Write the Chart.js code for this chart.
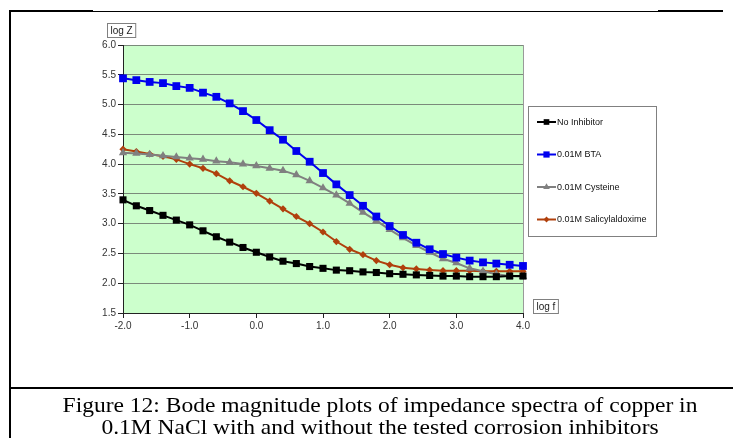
<!DOCTYPE html>
<html>
<head>
<meta charset="utf-8">
<script src="https://cdn.jsdelivr.net/npm/chart.js@4.4.1/dist/chart.umd.min.js"></script>
<style>
  html, body { margin: 0; padding: 0; background: #fff; }
  body { width: 733px; height: 438px; position: relative; overflow: hidden; }
  #chartBox { position: absolute; left: 0; top: 0; width: 733px; height: 388px; }
  .line { position: absolute; background: #000; }
  #caption {
    position: absolute; left: 10px; top: 394px; width: 740px;
    font-family: "Liberation Serif", "Times New Roman", serif;
    font-size: 21px; line-height: 22px; text-align: center; color: #000;
    transform: scaleX(1.12); transform-origin: 370px 0;
  }
</style>
</head>
<body>
<div id="chartBox"><canvas id="bodeChart" width="733" height="388"></canvas></div>
<div class="line" style="left:9px; top:10px; width:2px; height:428px;"></div>
<div class="line" style="left:9px; top:10px; width:84px; height:2px;"></div>
<div class="line" style="left:93px; top:11px; width:565px; height:1px;"></div>
<div class="line" style="left:658px; top:10px; width:65px; height:2px;"></div>
<div class="line" style="left:9px; top:387px; width:724px; height:2px;"></div>
<div id="caption">Figure 12: Bode magnitude plots of impedance spectra of copper in<br>0.1M NaCl with and without the tested corrosion inhibitors</div>
<script>
// log f values (x)
const logF = [-2.0, -1.8, -1.6, -1.4, -1.2, -1.0, -0.8, -0.6, -0.4, -0.2,
              0.0, 0.2, 0.4, 0.6, 0.8, 1.0, 1.2, 1.4, 1.6, 1.8,
              2.0, 2.2, 2.4, 2.6, 2.8, 3.0, 3.2, 3.4, 3.6, 3.8, 4.0];

// log Z values per series
const noInhibitor = [3.40, 3.30, 3.22, 3.14, 3.06, 2.98, 2.88, 2.78, 2.69, 2.60,
                     2.52, 2.44, 2.37, 2.33, 2.28, 2.25, 2.22, 2.21, 2.19, 2.18,
                     2.16, 2.15, 2.14, 2.13, 2.12, 2.12, 2.11, 2.11, 2.11, 2.12, 2.12];
const bta = [5.44, 5.41, 5.38, 5.36, 5.31, 5.28, 5.20, 5.13, 5.02, 4.89,
             4.74, 4.57, 4.41, 4.22, 4.04, 3.85, 3.66, 3.48, 3.30, 3.12,
             2.96, 2.81, 2.68, 2.57, 2.49, 2.43, 2.38, 2.35, 2.33, 2.31, 2.29];
const cysteine = [4.19, 4.18, 4.16, 4.14, 4.12, 4.10, 4.08, 4.05, 4.03, 4.00,
                  3.97, 3.93, 3.89, 3.82, 3.72, 3.60, 3.48, 3.34, 3.19, 3.05,
                  2.90, 2.76, 2.63, 2.52, 2.41, 2.34, 2.25, 2.20, 2.15, 2.12, 2.11];
const salicylaldoxime = [4.25, 4.21, 4.17, 4.13, 4.08, 4.00, 3.93, 3.84, 3.72, 3.62,
                         3.51, 3.38, 3.25, 3.12, 3.00, 2.86, 2.70, 2.57, 2.48, 2.38,
                         2.31, 2.26, 2.24, 2.22, 2.21, 2.21, 2.21, 2.20, 2.20, 2.20, 2.20];

const seriesLabels = ["No Inhibitor", "0.01M BTA", "0.01M Cysteine", "0.01M Salicylaldoxime"];

function toPoints(values) {
    return logF.map((x, i) => ({ x: x, y: values[i] }));
}

// plot area background and right edge
const plotBackground = {
    id: 'plotBackground',
    beforeDraw(chart) {
        const { ctx, chartArea: a } = chart;
        ctx.save();
        ctx.fillStyle = '#ccffcc';
        ctx.fillRect(a.left, a.top, a.right - a.left, a.bottom - a.top);
        ctx.strokeStyle = '#9a9a9a';
        ctx.lineWidth = 1;
        ctx.beginPath();
        ctx.moveTo(a.right + 0.5, a.top);
        ctx.lineTo(a.right + 0.5, a.bottom);
        ctx.stroke();
        ctx.restore();
    }
};

// boxed axis titles and legend, drawn like the excel chart
const excelBits = {
    id: 'excelBits',
    afterDraw(chart) {
        const ctx = chart.ctx;
        ctx.save();
        ctx.font = '10px "Liberation Sans", Arial, sans-serif';
        ctx.textBaseline = 'middle';

        function boxedText(text, x, y) {
            const w = ctx.measureText(text).width + 6;
            ctx.fillStyle = '#fff';
            ctx.fillRect(x, y, w, 14);
            ctx.strokeStyle = '#808080';
            ctx.lineWidth = 1;
            ctx.strokeRect(x + 0.5, y + 0.5, w, 14);
            ctx.fillStyle = '#222';
            ctx.textAlign = 'left';
            ctx.fillText(text, x + 3.5, y + 8);
        }
        boxedText('log Z', 107, 23);
        boxedText('log f', 533, 299);

        // legend
        const lx = 528, ly = 106, lw = 128, lh = 130;
        ctx.fillStyle = '#fff';
        ctx.fillRect(lx, ly, lw, lh);
        ctx.strokeStyle = '#808080';
        ctx.strokeRect(lx + 0.5, ly + 0.5, lw, lh);
        ctx.font = '9px "Liberation Sans", Arial, sans-serif';
        chart.data.datasets.forEach((ds, i) => {
            const y = 122 + i * 32.5;
            ctx.strokeStyle = ds.borderColor;
            ctx.lineWidth = 2;
            ctx.beginPath();
            ctx.moveTo(537, y);
            ctx.lineTo(556, y);
            ctx.stroke();
            ctx.fillStyle = ds.backgroundColor;
            Chart.helpers.drawPoint(ctx, {
                pointStyle: ds.pointStyle,
                radius: ds.pointRadius * 0.8,
                borderWidth: 0
            }, 546.5, y);
            ctx.fillStyle = '#111';
            ctx.textAlign = 'left';
            ctx.fillText(ds.label, 557, y + 0.5);
        });
        ctx.restore();
    }
};

new Chart(document.getElementById("bodeChart"), {
    type: 'line',
    data: {
        datasets: [
            {
                label: seriesLabels[0],
                data: toPoints(noInhibitor),
                borderColor: '#000000',
                backgroundColor: '#000000',
                pointStyle: 'rect',
                pointRadius: 5
            },
            {
                label: seriesLabels[1],
                data: toPoints(bta),
                borderColor: '#0000ee',
                backgroundColor: '#0000ee',
                pointStyle: 'rect',
                pointRadius: 5.5
            },
            {
                label: seriesLabels[2],
                data: toPoints(cysteine),
                borderColor: '#808080',
                backgroundColor: '#808080',
                pointStyle: 'triangle',
                pointRadius: 4.8
            },
            {
                label: seriesLabels[3],
                data: toPoints(salicylaldoxime),
                borderColor: '#b0400c',
                backgroundColor: '#b0400c',
                pointStyle: 'rectRot',
                pointRadius: 3.6
            }
        ]
    },
    options: {
        responsive: false,
        animation: false,
        datasets: { line: { clip: false } },
        elements: {
            line: { borderWidth: 2, tension: 0 },
            point: { borderWidth: 0, hoverRadius: 5 }
        },
        layout: { padding: { left: 83, top: 45, right: 210, bottom: 50 } },
        plugins: {
            legend: { display: false },
            tooltip: { enabled: false }
        },
        scales: {
            x: {
                type: 'linear',
                min: -2,
                max: 4,
                afterFit(scale) { scale.height = 25; },
                border: { color: '#222', width: 1 },
                grid: { drawOnChartArea: false, tickLength: 5, tickColor: '#222' },
                ticks: {
                    stepSize: 1,
                    padding: 2,
                    color: '#333',
                    font: { family: '"Liberation Sans", Arial, sans-serif', size: 10 },
                    callback: v => v.toFixed(1)
                }
            },
            y: {
                min: 1.5,
                max: 6,
                afterFit(scale) { scale.width = 40; },
                border: { color: '#222', width: 1 },
                grid: { color: '#7a8a7a', tickLength: 5, tickColor: '#222' },
                ticks: {
                    stepSize: 0.5,
                    padding: 2,
                    color: '#333',
                    font: { family: '"Liberation Sans", Arial, sans-serif', size: 10 },
                    callback: v => v.toFixed(1)
                }
            }
        }
    },
    plugins: [plotBackground, excelBits]
});
</script>
</body>
</html>
